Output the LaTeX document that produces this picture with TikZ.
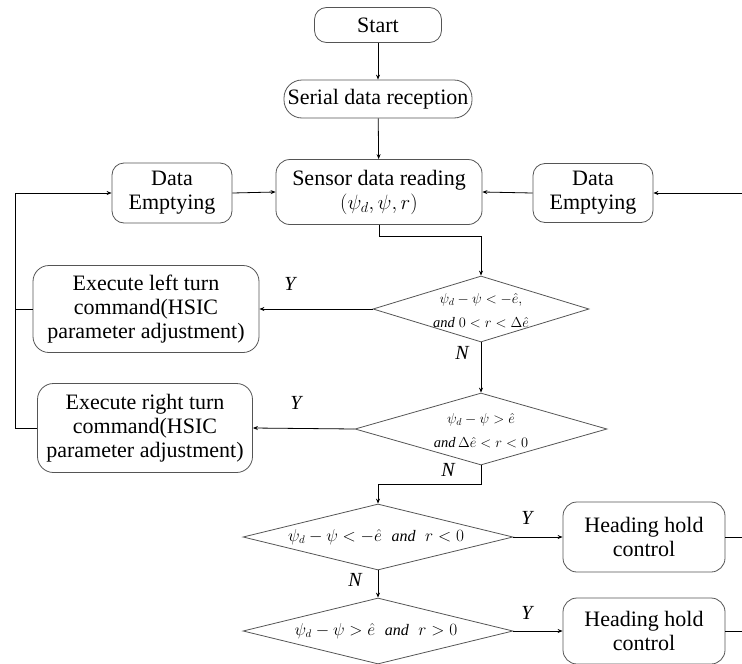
\documentclass[tikz,border=0pt]{standalone}
\usepackage{amsmath,amssymb}
\usepackage{fontspec}
\setmainfont{Liberation Serif}
\usepackage{tikz}
\usetikzlibrary{arrows.meta,shapes.geometric}
\definecolor{rahmengrau}{RGB}{85,85,85}

\begin{document}
\begin{tikzpicture}[x=1pt, y=-1pt, >={Stealth[length=5pt,width=4pt]}, line width=0.8pt,
    kasten/.style={draw=rahmengrau, rounded corners=12pt, align=center, inner sep=0pt,
        font=\fontsize{22}{24}\selectfont},
    raute/.style={draw=rahmengrau, diamond, inner sep=0pt},
    formel/.style={align=center, inner sep=0pt, font=\fontsize{14.5}{24}\selectfont},
    marke/.style={font=\fontsize{20}{22}\selectfont\itshape}]
    \useasboundingbox (0,0) rectangle (742,664);
    \node[kasten, minimum width=127pt, minimum height=35pt] (start) at (378,25) {Start};
    \node[kasten, rounded corners=18pt, minimum width=188pt, minimum height=38pt] (serial) at (378,99) {Serial data reception};
    \node[kasten, rounded corners=14pt, minimum width=206pt, minimum height=65pt] (sensor) at (379,192) {Sensor data reading\\$(\psi_d,\psi,r)$};
    \node[kasten, minimum width=120pt, minimum height=60pt] (leerL) at (172,193) {Data\\Emptying};
    \node[kasten, minimum width=120pt, minimum height=59pt] (leerR) at (593,193) {Data\\Emptying};
    \node[kasten, rounded corners=16pt, minimum width=226pt, minimum height=87pt] (links) at (146,309) {Execute left turn\\command(HSIC\\parameter adjustment)};
    \node[kasten, rounded corners=16pt, minimum width=215pt, minimum height=89pt] (rechts) at (145,428) {Execute right turn\\command(HSIC\\parameter adjustment)};
    \node[raute, minimum width=216pt, minimum height=66pt] (r1) at (481,309) {};
    \node[formel] (t1) at (481,311) {$\psi_d-\psi<-\hat{e},$\\$\mathit{and}\;0<r<\Delta\hat{e}$};
    \node[raute, minimum width=252pt, minimum height=72pt] (r2) at (481,429) {};
    \node[formel] (t2) at (481,431) {$\psi_d-\psi>\hat{e}$\\$\mathit{and}\,\Delta\hat{e}<r<0$};
    \node[raute, minimum width=270pt, minimum height=66pt] (r3) at (378,537) {};
    \node[formel, font=\fontsize{16}{20}\selectfont] (t3) at (376,537) {$\psi_d-\psi<-\hat{e}\;\;\mathit{and}\;\;r<0$};
    \node[raute, minimum width=270pt, minimum height=66pt] (r4) at (378,631) {};
    \node[formel, font=\fontsize{16}{20}\selectfont] (t4) at (376,631) {$\psi_d-\psi>\hat{e}\;\;\mathit{and}\;\;r>0$};
    \node[kasten, rounded corners=14pt, minimum width=162pt, minimum height=70pt] (halt1) at (644,537) {Heading hold\\control};
    \node[kasten, rounded corners=14pt, minimum width=162pt, minimum height=66pt] (halt2) at (644,631) {Heading hold\\control};
    \node[marke] (y1) at (290,284) {Y};
    \node[marke] (n1) at (462,353) {N};
    \node[marke] (y2) at (296,403) {Y};
    \node[marke] (n2) at (448,470) {N};
    \node[marke] (y3) at (527,518) {Y};
    \node[marke] (n3) at (355,580) {N};
    \node[marke] (y4) at (527,613) {Y};
    \coordinate (k1) at (481,236);
    \coordinate (k2) at (378,484);
    \coordinate (ecke) at (15,193);
    \coordinate (rand) at (742,193);
    \coordinate (ende1) at (742,537);
    \coordinate (ende2) at (742,631);
    \draw[->] (start) -- (serial);
    \draw[->] (serial) -- (sensor);
    \draw[->] (sensor.south) |- (k1) -- (r1.north);
    \draw[->] (r1.west) -- (links.east);
    \draw[->] (r1.south) -- (r2.north);
    \draw[->] (r2.west) -- (rechts.east);
    \draw[->] (r2.south) |- (k2) -- (r3.north);
    \draw[->] (r3.east) -- (halt1.west);
    \draw[->] (r3.south) -- (r4.north);
    \draw[->] (r4.east) -- (halt2.west);
    \draw (halt1.east) -- (ende1);
    \draw (halt2.east) -- (ende2);
    \draw[->] (rand) -- (leerR.east);
    \draw[->] (leerR.west) -- (sensor.east);
    \draw (links.west) -| (ecke);
    \draw[->] (rechts.west) -| (ecke) -- (leerL.west);
    \draw[->] (leerL.east) -- (sensor.west);
\end{tikzpicture}
\end{document}
